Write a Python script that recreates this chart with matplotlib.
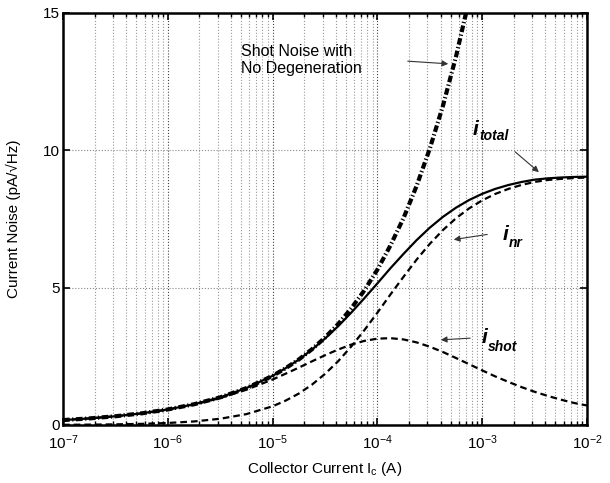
import matplotlib.pyplot as plt
import numpy as np
from matplotlib.ticker import LogLocator, NullFormatter

plt.rcParams['font.family'] = ['Liberation Sans', 'DejaVu Sans']
plt.rcParams['mathtext.fontset'] = 'custom'
plt.rcParams['mathtext.rm'] = 'Liberation Sans'
plt.rcParams['mathtext.it'] = 'Liberation Sans:italic'
plt.rcParams['mathtext.bf'] = 'Liberation Sans:bold'

# collector current (A): quarter decades up to 1e-5, eighth decades after
current = [1.0e-7, 1.78e-7, 3.16e-7, 5.62e-7,
           1.0e-6, 1.78e-6, 3.16e-6, 5.62e-6,
           1.0e-5, 1.33e-5, 1.78e-5, 2.37e-5, 3.16e-5, 4.22e-5, 5.62e-5, 7.50e-5,
           1.0e-4, 1.33e-4, 1.78e-4, 2.37e-4, 3.16e-4, 4.22e-4, 5.62e-4, 7.50e-4,
           1.0e-3, 1.33e-3, 1.78e-3, 2.37e-3, 3.16e-3, 4.22e-3, 5.62e-3, 7.50e-3,
           1.0e-2]

# current noise (pA/rtHz)
i_total = [0.179, 0.239, 0.318, 0.424,
           0.566, 0.755, 1.007, 1.344,
           1.790, 2.067, 2.382, 2.742, 3.146, 3.596, 4.088, 4.613,
           5.157, 5.705, 6.235, 6.733, 7.183, 7.578, 7.911, 8.191,
           8.416, 8.595, 8.738, 8.847, 8.932, 8.980, 9.010, 9.030,
           9.040]
i_nr = [0.007, 0.013, 0.023, 0.041,
        0.073, 0.129, 0.227, 0.396,
        0.681, 0.887, 1.145, 1.467, 1.858, 2.321, 2.855, 3.450,
        4.089, 4.749, 5.402, 6.024, 6.594, 7.097, 7.526, 7.886,
        8.178, 8.411, 8.596, 8.739, 8.850, 8.920, 8.960, 8.990,
        9.010]
i_shot = [0.179, 0.239, 0.317, 0.422,
          0.561, 0.744, 0.981, 1.284,
          1.656, 1.867, 2.089, 2.316, 2.539, 2.747, 2.926, 3.062,
          3.143, 3.161, 3.114, 3.007, 2.850, 2.657, 2.439, 2.213,
          1.988, 1.770, 1.568, 1.380, 1.210, 1.058, 0.923, 0.803,
          0.710]

# shot noise with no degeneration (runs off the top after ~7e-4)
current_nodeg = [1.0e-7, 1.78e-7, 3.16e-7, 5.62e-7,
                 1.0e-6, 1.78e-6, 3.16e-6, 5.62e-6,
                 1.0e-5, 1.33e-5, 1.78e-5, 2.37e-5, 3.16e-5, 4.22e-5, 5.62e-5, 7.50e-5,
                 1.0e-4, 1.33e-4, 1.78e-4, 2.37e-4, 3.16e-4, 4.22e-4, 5.62e-4, 7.50e-4,
                 1.0e-3]
i_nodeg = [0.179, 0.239, 0.318, 0.424,
           0.566, 0.755, 1.006, 1.342,
           1.789, 2.066, 2.386, 2.755, 3.181, 3.674, 4.242, 4.899,
           5.657, 6.533, 7.543, 8.711, 10.06, 11.62, 13.41, 15.49,
           17.89]

fig = plt.figure(figsize=(6.1, 4.83), dpi=100)
ax = fig.add_axes([0.1033, 0.1201, 0.859, 0.853])

ax.semilogx(current, i_total, color='black', lw=1.6)
ax.semilogx(current, i_nr, color='black', lw=1.6, dashes=(3, 1.8))
ax.semilogx(current, i_shot, color='black', lw=1.6, dashes=(3, 1.8))
ax.semilogx(current_nodeg, i_nodeg, color='black', lw=3.0,
            linestyle=(0, (1.6, 0.6, 0.3, 0.6)))

ax.set_xlim(1e-7, 1e-2)
ax.set_ylim(0, 15)
ax.set_yticks([0, 5, 10, 15])
ax.xaxis.set_minor_locator(LogLocator(base=10, subs=np.arange(2, 10)))
ax.xaxis.set_minor_formatter(NullFormatter())

ax.grid(True, which='major', axis='x', linestyle=':', color='#444444', lw=0.8)
ax.grid(True, which='minor', axis='x', linestyle=':', color='#999999', lw=0.8)
ax.grid(True, which='major', axis='y', linestyle=':', color='#888888', lw=0.8)

ax.tick_params(which='both', direction='in', top=True, right=True, labelsize=11)
ax.tick_params(which='major', length=5, width=1.2)
ax.tick_params(which='minor', length=3, width=1.0)
ax.tick_params(axis='x', pad=6)
ax.tick_params(axis='y', pad=2)
for s in ax.spines.values():
    s.set_linewidth(1.8)

ax.set_xlabel(r'Collector Current I$_\mathregular{c}$ (A)', fontsize=11, labelpad=6)
ax.set_ylabel('Current Noise (pA/\u221aHz)', fontsize=11)
ax.yaxis.set_label_coords(-0.08, 0.5)

# annotations, placed in figure pixels (origin bottom-left)
H = 483
ax.text(241, H - 44, 'Shot Noise with\nNo Degeneration', transform=None,
        fontsize=11.5, va='top', ha='left', linespacing=1.15)

arrow = dict(arrowstyle='-|>', color='#333333', lw=0.8, mutation_scale=9)
ax.annotate('', xy=(451, H - 64), xytext=(405, H - 61),
            xycoords='figure pixels', textcoords='figure pixels', arrowprops=arrow)
ax.annotate('', xy=(541, H - 174), xytext=(513, H - 150),
            xycoords='figure pixels', textcoords='figure pixels', arrowprops=arrow)
ax.annotate('', xy=(451, H - 240), xytext=(490, H - 234),
            xycoords='figure pixels', textcoords='figure pixels', arrowprops=arrow)
ax.annotate('', xy=(438, H - 340), xytext=(473, H - 338),
            xycoords='figure pixels', textcoords='figure pixels', arrowprops=arrow)

lab = dict(transform=None, fontweight='bold', style='italic', ha='left', va='baseline')
ax.text(473, H - 135, 'i', fontsize=15, **lab)
ax.text(479, H - 140, 'total', fontsize=10, **lab)
ax.text(503, H - 240, 'i', fontsize=15, **lab)
ax.text(509, H - 247, 'nr', fontsize=10, **lab)
ax.text(482, H - 343, 'i', fontsize=15, **lab)
ax.text(488, H - 351, 'shot', fontsize=10, **lab)

fig.savefig('out.png', dpi=100)
